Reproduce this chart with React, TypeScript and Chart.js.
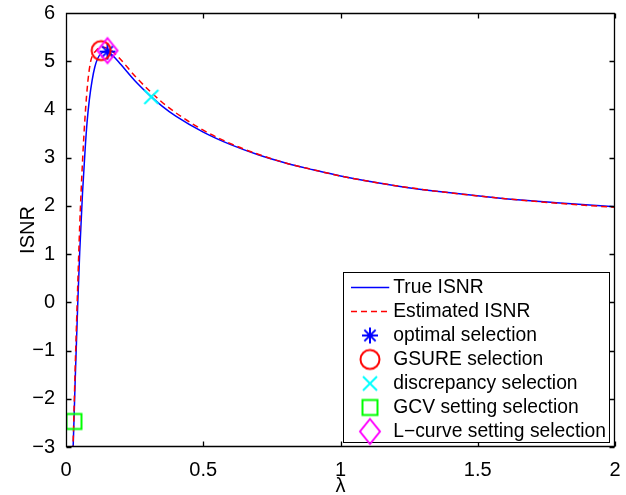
import React, { useEffect, useRef } from "react";
import { Chart, registerables } from "chart.js";

Chart.register(...registerables);

// ---- data ----
const lambdaTrue = [0.024, 0.026, 0.029, 0.033, 0.038, 0.043, 0.05, 0.06, 0.07, 0.077, 0.085, 0.095, 0.105, 0.115, 0.13, 0.15, 0.17, 0.2, 0.25, 0.311, 0.35, 0.4, 0.5, 0.6, 0.7, 0.8, 0.9, 1.0, 1.2, 1.4, 1.6, 1.8, 2.0];
const isnrTrue = [-3.4, -3.0, -2.47, -1.7, -0.85, 0.0, 1.05, 2.25, 3.2, 3.75, 4.2, 4.6, 4.88, 5.05, 5.17, 5.2, 5.12, 4.93, 4.6, 4.26, 4.07, 3.86, 3.53, 3.27, 3.06, 2.89, 2.75, 2.62, 2.42, 2.27, 2.15, 2.06, 1.98];

const lambdaEst = [0.024, 0.026, 0.029, 0.033, 0.038, 0.043, 0.05, 0.06, 0.07, 0.08, 0.09, 0.1, 0.11, 0.12, 0.135, 0.15, 0.17, 0.2, 0.25, 0.311, 0.35, 0.4, 0.5, 0.6, 0.7, 0.8, 0.9, 1.0, 1.2, 1.4, 1.6, 1.8, 2.0];
const isnrEst = [-3.3, -2.9, -2.3, -1.45, -0.5, 0.4, 1.6, 2.9, 3.9, 4.6, 5.0, 5.15, 5.22, 5.27, 5.29, 5.27, 5.2, 5.03, 4.7, 4.35, 4.15, 3.93, 3.57, 3.29, 3.07, 2.89, 2.75, 2.62, 2.42, 2.27, 2.15, 2.05, 1.97];

const lineLabels = ["True ISNR", "Estimated ISNR"];
const markerLabels = ["optimal selection", "GSURE selection", "discrepancy selection", "GCV setting selection", "L\u2212curve setting selection"];
const markerLambda = [0.151, 0.128, 0.311, 0.029, 0.151];
const markerIsnr = [5.2, 5.22, 4.26, -2.47, 5.22];

const xTickStep = 0.5;
const yTickStep = 1;
const xRange = [0, 2];
const yRange = [-3, 6];

// ---- styles ----
const FONT = "'Liberation Sans', Arial, Helvetica, sans-serif";
const markerKinds = ["star", "circle", "x", "square", "diamond"];
const markerColors = ["#0000ff", "#ff0000", "#00ffff", "#00ff00", "#ff00ff"];

function makeMarker(kind: string, color: string): HTMLCanvasElement {
  const c = document.createElement("canvas");
  c.width = 32;
  c.height = 32;
  const g = c.getContext("2d")!;
  g.strokeStyle = color;
  g.lineWidth = 2;
  const cx = 16, cy = 16;
  g.beginPath();
  if (kind === "star") {
    const r = 8;
    const d = r * Math.SQRT1_2;
    g.moveTo(cx - r, cy); g.lineTo(cx + r, cy);
    g.moveTo(cx, cy - r); g.lineTo(cx, cy + r);
    g.moveTo(cx - d, cy - d); g.lineTo(cx + d, cy + d);
    g.moveTo(cx - d, cy + d); g.lineTo(cx + d, cy - d);
  } else if (kind === "circle") {
    g.arc(cx, cy, 9.5, 0, Math.PI * 2);
  } else if (kind === "x") {
    const d = 7;
    g.moveTo(cx - d, cy - d); g.lineTo(cx + d, cy + d);
    g.moveTo(cx - d, cy + d); g.lineTo(cx + d, cy - d);
  } else if (kind === "square") {
    g.rect(cx - 7.5, cy - 7.5, 15, 15);
  } else if (kind === "diamond") {
    g.moveTo(cx, cy - 12.5);
    g.lineTo(cx + 10, cy);
    g.lineTo(cx, cy + 12.5);
    g.lineTo(cx - 10, cy);
    g.closePath();
  }
  g.stroke();
  return c;
}

const framePlugin = {
  id: "frameTicks",
  afterDatasetsDraw(chart: any) {
    const { ctx, chartArea: a, scales } = chart;
    ctx.save();
    ctx.strokeStyle = "#000";
    ctx.lineWidth = 1.3;
    const L = Math.round(a.left) + 0.5, R = Math.round(a.right) - 0.5;
    const T = Math.round(a.top) + 0.5, B = Math.round(a.bottom) - 0.5;
    ctx.beginPath();
    ctx.rect(L, T, R - L, B - T);
    const tl = 5;
    scales.x.ticks.forEach((t: any) => {
      const px = Math.round(scales.x.getPixelForValue(t.value)) + 0.5;
      ctx.moveTo(px, B); ctx.lineTo(px, B - tl);
      ctx.moveTo(px, T); ctx.lineTo(px, T + tl);
    });
    scales.y.ticks.forEach((t: any) => {
      const py = Math.round(scales.y.getPixelForValue(t.value)) + 0.5;
      ctx.moveTo(L, py); ctx.lineTo(L + tl, py);
      ctx.moveTo(R, py); ctx.lineTo(R - tl, py);
    });
    ctx.stroke();
    ctx.restore();
  },
};

const legendPlugin = {
  id: "boxLegend",
  afterDraw(chart: any) {
    const { ctx, chartArea: a } = chart;
    const ds = chart.data.datasets;
    ctx.save();
    ctx.font = `19.3px ${FONT}`;
    let maxW = 0;
    ds.forEach((d: any) => { maxW = Math.max(maxW, ctx.measureText(d.label).width); });
    const rowH = 24;
    const boxRight = Math.round(a.right - 5);
    const boxBottom = Math.round(a.bottom - 4);
    const boxH = ds.length * rowH + 3;
    const boxTop = boxBottom - boxH;
    const textX = boxRight - maxW - 4;
    const boxLeft = Math.round(textX - 50);
    ctx.fillStyle = "#fff";
    ctx.fillRect(boxLeft, boxTop, boxRight - boxLeft, boxH);
    ctx.strokeStyle = "#000";
    ctx.lineWidth = 1;
    ctx.strokeRect(boxLeft + 0.5, boxTop + 0.5, boxRight - boxLeft - 1, boxH - 1);
    ds.forEach((d: any, i: number) => {
      const cy = boxTop + 15.5 + i * rowH;
      if (d.showLine) {
        ctx.save();
        ctx.strokeStyle = d.borderColor;
        ctx.lineWidth = d.borderWidth;
        ctx.setLineDash(d.borderDash || []);
        ctx.beginPath();
        ctx.moveTo(boxLeft + 8, cy);
        ctx.lineTo(textX - 4, cy);
        ctx.stroke();
        ctx.restore();
      } else {
        const img = d.pointStyle as HTMLCanvasElement;
        ctx.drawImage(img, boxLeft + 27 - img.width / 2, cy - img.height / 2);
      }
      ctx.fillStyle = "#000";
      ctx.textBaseline = "middle";
      ctx.textAlign = "left";
      ctx.fillText(d.label, textX, cy);
    });
    ctx.restore();
  },
};

export default function App() {
  const ref = useRef<HTMLCanvasElement | null>(null);
  useEffect(() => {
    if (!ref.current) return;
    const markers = markerKinds.map((k, i) => makeMarker(k, markerColors[i]));
    const datasets: any[] = [
      {
        label: lineLabels[0],
        data: lambdaTrue.map((x, i) => ({ x, y: isnrTrue[i] })),
        showLine: true,
        borderColor: "#0000ff",
        borderWidth: 1.5,
        pointRadius: 0,
        cubicInterpolationMode: "monotone",
        order: 10,
      },
      {
        label: lineLabels[1],
        data: lambdaEst.map((x, i) => ({ x, y: isnrEst[i] })),
        showLine: true,
        borderColor: "#ff0000",
        borderWidth: 1.5,
        borderDash: [6, 4],
        pointRadius: 0,
        cubicInterpolationMode: "monotone",
        order: 9,
      },
      ...markerLabels.map((label, i) => ({
        label,
        data: [{ x: markerLambda[i], y: markerIsnr[i] }],
        showLine: false,
        pointStyle: markers[i],
        pointRadius: 10,
        order: 5 - i,
      })),
    ];
    const chart = new Chart(ref.current, {
      type: "scatter",
      data: { datasets },
      options: {
        animation: false,
        responsive: false,
        devicePixelRatio: 1,
        layout: { padding: { left: 0, top: 11, right: 7, bottom: 0 } },
        plugins: { legend: { display: false }, tooltip: { enabled: false } },
        scales: {
          x: {
            type: "linear",
            min: xRange[0],
            max: xRange[1],
            grid: { display: false },
            border: { display: false },
            ticks: {
              stepSize: xTickStep,
              padding: 5,
              color: "#000",
              font: { size: 20, family: FONT, lineHeight: 1 },
              maxRotation: 0,
              callback: (v: any) => String(v),
            },
            title: {
              display: true,
              text: "\u03bb",
              color: "#000",
              font: { size: 20, family: FONT, lineHeight: 0.9 },
              padding: { top: 0, bottom: 0 },
            },
            afterFit: (s: any) => { s.height = 48; },
          },
          y: {
            type: "linear",
            min: yRange[0],
            max: yRange[1],
            grid: { display: false },
            border: { display: false },
            ticks: {
              stepSize: yTickStep,
              padding: 3,
              color: "#000",
              font: { size: 20, family: FONT, lineHeight: 1 },
              callback: (v: any) => (v < 0 ? "\u2212" + Math.abs(v) : String(v)),
            },
            title: {
              display: true,
              text: "ISNR",
              color: "#000",
              font: { size: 20, family: FONT },
              padding: { top: 16, bottom: 0 },
            },
            afterFit: (s: any) => { s.width = 66; },
          },
        },
      },
      plugins: [framePlugin, legendPlugin],
    });
    return () => chart.destroy();
  }, []);
  return (
    <div style={{ position: "absolute", left: 0, top: 0, width: 626, height: 495, background: "#fff" }}>
      <canvas ref={ref} width={626} height={495} style={{ display: "block" }} />
    </div>
  );
}
